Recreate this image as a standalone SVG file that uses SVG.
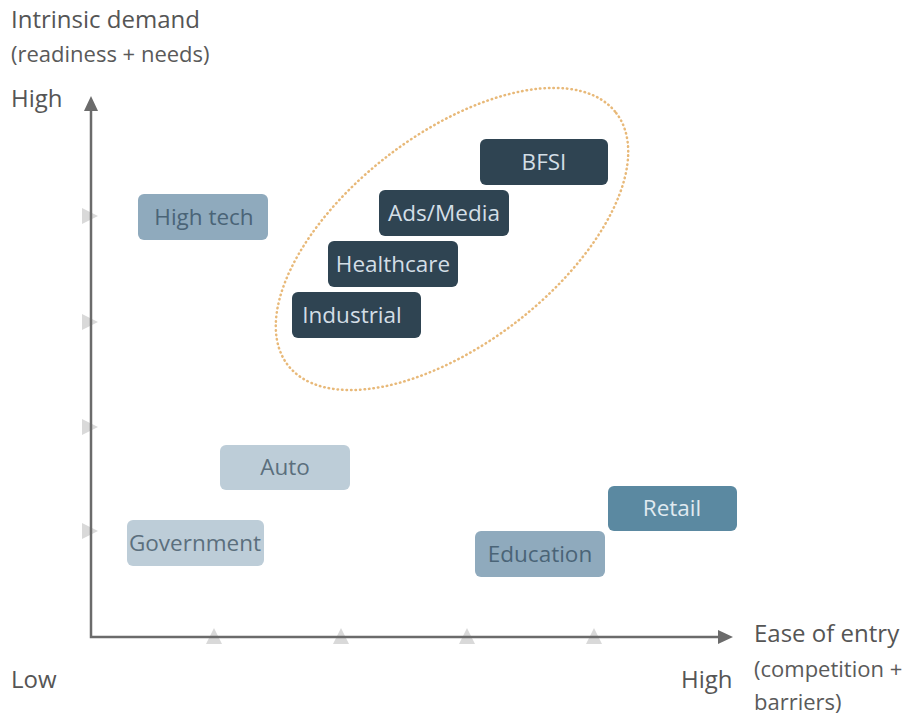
<svg xmlns="http://www.w3.org/2000/svg" width="915" height="718" viewBox="0 0 915 718">
<style>
text{font-family:"Open Sans","Noto Sans","DejaVu Sans",sans-serif}
.lbl{font-size:24px;fill:#555}
.sub{font-size:22px;fill:#5a5a5a}
.bt{font-size:22.5px;text-anchor:middle}
.dark rect{fill:#2f4452}
.dark text{fill:#d3dee6}
.mid rect{fill:#8faabd}
.mid text{fill:#4a6477}
.light rect{fill:#bdcdd8}
.light text{fill:#5b6f7d}
.ret rect{fill:#5b89a1}
.ret text{fill:#e0eaf0}
.tick{fill:#d9d9d9}
</style>
<rect width="915" height="718" fill="#fff"/>
<g id="labels">
<text class="lbl" x="11" y="28">Intrinsic demand</text>
<text class="sub" x="11" y="62">(readiness + needs)</text>
<text class="lbl" x="11" y="107">High</text>
<text class="lbl" x="11" y="688">Low</text>
<text class="lbl" x="681" y="688">High</text>
<text class="lbl" x="754" y="642">Ease of entry</text>
<text class="sub" x="754" y="677">(competition +</text>
<text class="sub" x="754" y="710">barriers)</text>
</g>
<g id="ticks">
<polygon class="tick" points="82,208 98,216 82,224"/>
<polygon class="tick" points="82,314 98,322 82,330"/>
<polygon class="tick" points="82,419 98,427 82,435"/>
<polygon class="tick" points="82,523 98,531 82,539"/>
<polygon class="tick" points="206,644 214,628 222,644"/>
<polygon class="tick" points="333,644 341,628 349,644"/>
<polygon class="tick" points="459,644 467,628 475,644"/>
<polygon class="tick" points="586,644 594,628 602,644"/>
</g>
<g id="connectors" stroke="#6b6b6b" stroke-width="2.5" fill="none">
<polyline points="91,110 91,637 720,637"/>
<polygon points="84,111 91,96 98,111" fill="#6b6b6b" stroke="none"/>
<polygon points="718,630 733,637 718,644" fill="#6b6b6b" stroke="none"/>
</g>
<g id="cluster">
<ellipse cx="452" cy="239" rx="207" ry="105" transform="rotate(-37.5 452 239)" fill="none" stroke="#e8b979" stroke-width="2.5" stroke-dasharray="0.5 4" stroke-linecap="round"/>
</g>
<g id="hightech" class="mid"><rect x="138" y="194" width="130" height="46" rx="6"/><text class="bt" x="204" y="225">High tech</text></g>
<g id="bfsi" class="dark"><rect x="480" y="139" width="128" height="46" rx="6"/><text class="bt" x="544" y="170">BFSI</text></g>
<g id="adsmedia" class="dark"><rect x="379" y="190" width="130" height="46" rx="6"/><text class="bt" x="444" y="221">Ads/Media</text></g>
<g id="healthcare" class="dark"><rect x="328" y="241" width="130" height="46" rx="6"/><text class="bt" x="393" y="272">Healthcare</text></g>
<g id="industrial" class="dark"><rect x="292" y="292" width="129" height="46" rx="6"/><text class="bt" x="352" y="323">Industrial</text></g>
<g id="auto" class="light"><rect x="220" y="445" width="130" height="45" rx="6"/><text class="bt" x="285" y="475">Auto</text></g>
<g id="government" class="light"><rect x="127" y="520" width="137" height="46" rx="6"/><text class="bt" x="195" y="551">Government</text></g>
<g id="education" class="mid"><rect x="475" y="531" width="130" height="46" rx="6"/><text class="bt" x="540" y="562">Education</text></g>
<g id="retail" class="ret"><rect x="608" y="486" width="129" height="45" rx="6"/><text class="bt" x="672" y="516">Retail</text></g>
</svg>
